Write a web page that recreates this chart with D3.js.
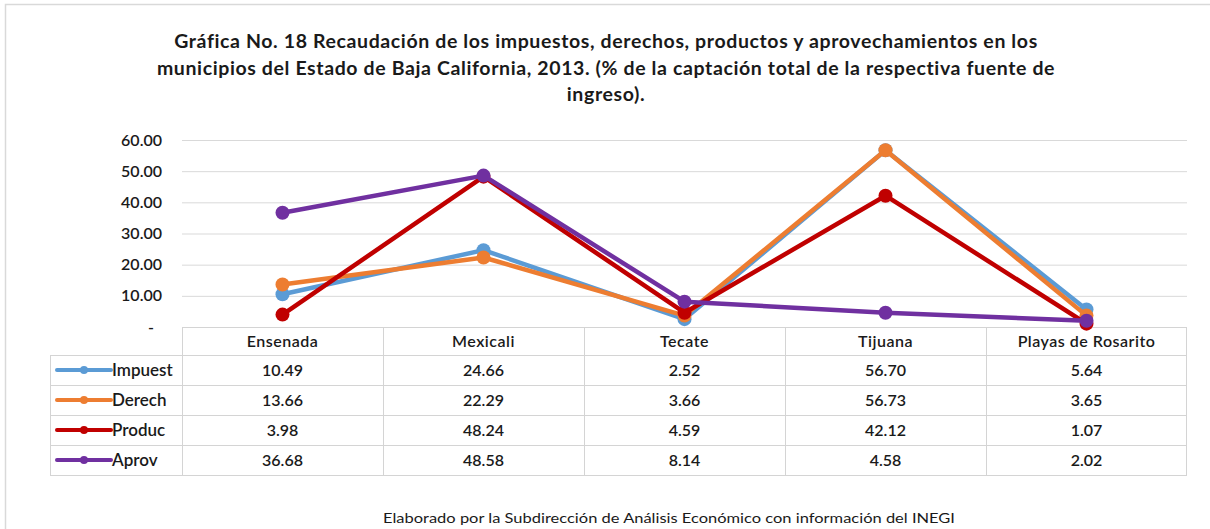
<!DOCTYPE html>
<html>
<head>
<meta charset="utf-8">
<script src="https://cdn.jsdelivr.net/npm/d3@7"></script>
<style>
  body { margin: 0; background: #fff; }
  text { font-family: Lato, "Open Sans", sans-serif; fill: #1a1a1a; }
</style>
</head>
<body>
<div id="chart"></div>
<script>
// data
var municipios = ["Ensenada", "Mexicali", "Tecate", "Tijuana", "Playas de Rosarito"];
var seriesNames = ["Impuest", "Derech", "Produc", "Aprov"];
var impuest = [10.49, 24.66, 2.52, 56.70, 5.64];
var derech = [13.66, 22.29, 3.66, 56.73, 3.65];
var produc = [3.98, 48.24, 4.59, 42.12, 1.07];
var aprov = [36.68, 48.58, 8.14, 4.58, 2.02];
var yTicks = [0, 10, 20, 30, 40, 50, 60];
var colors = ["#5b9bd5", "#ed7d31", "#c00000", "#7030a0"];

var titleLines = [
    "Gráfica No. 18 Recaudación de los impuestos, derechos, productos y aprovechamientos en los",
    "municipios del Estado de Baja California, 2013. (% de la captación total de la respectiva fuente de",
    "ingreso)."
];
var footer = "Elaborado por la Subdirección de Análisis Económico con información del INEGI";

var series = seriesNames.map(function(name, i) {
    return {name: name, values: [impuest, derech, produc, aprov][i], color: colors[i]};
});

var width = 1210, height = 529;
var plot = {left: 182, right: 1187, top: 140, bottom: 327};
var table = {left: 50, headerH: 28, rowH: 30};

var svg = d3.select("#chart").append("svg")
    .attr("width", width)
    .attr("height", height);

// outer frame
svg.append("rect")
    .attr("x", 5.5).attr("y", 4.5)
    .attr("width", 1220).attr("height", 540)
    .attr("fill", "none")
    .attr("stroke", "#d9d9d9")
    .attr("stroke-width", 1.5);

// title
svg.append("g").selectAll("text")
    .data(titleLines)
    .join("text")
    .attr("x", 606)
    .attr("y", (d, i) => 48 + i * 26.5)
    .attr("text-anchor", "middle")
    .attr("font-size", 19.5)
    .attr("font-weight", "bold")
    .attr("letter-spacing", 0.62)
    .text(d => d);

var x = d3.scaleBand()
    .domain(municipios)
    .range([plot.left, plot.right]);

var y = d3.scaleLinear()
    .domain([0, 60])
    .range([plot.bottom, plot.top]);

// gridlines
svg.append("g")
    .selectAll("line")
    .data(yTicks.filter(d => d > 0))
    .join("line")
    .attr("x1", plot.left).attr("x2", plot.right)
    .attr("y1", d => y(d) + 0.5).attr("y2", d => y(d) + 0.5)
    .attr("stroke", "#d9d9d9");

// y axis labels
var yAxis = d3.axisLeft(y)
    .tickValues(yTicks)
    .tickSize(0)
    .tickPadding(0)
    .tickFormat(d => d === 0 ? "-" : d3.format(".2f")(d));

svg.append("g")
    .attr("class", "y-axis")
    .attr("transform", "translate(162,0)")
    .call(yAxis)
    .call(g => g.select(".domain").remove())
    .selectAll("text")
    .attr("font-size", 16)
    .attr("font-weight", "600")
    .attr("font-family", "Lato, sans-serif")
    .attr("fill", "#1a1a1a")
    .attr("x", d => d === 0 ? -8 : 0);

// table
var tableG = svg.append("g").attr("class", "table");
var tTop = plot.bottom;
var tBottom = tTop + table.headerH + table.rowH * series.length;
var gridColor = "#d4d4d4";

// horizontal rules
tableG.append("line")
    .attr("x1", plot.left).attr("x2", plot.right)
    .attr("y1", tTop + 0.5).attr("y2", tTop + 0.5)
    .attr("stroke", gridColor);
d3.range(series.length + 1).forEach(function(i) {
    var yy = tTop + table.headerH + i * table.rowH + 0.5;
    tableG.append("line")
        .attr("x1", table.left).attr("x2", plot.right)
        .attr("y1", yy).attr("y2", yy)
        .attr("stroke", gridColor);
});

// vertical rules
tableG.append("line")
    .attr("x1", table.left + 0.5).attr("x2", table.left + 0.5)
    .attr("y1", tTop + table.headerH).attr("y2", tBottom)
    .attr("stroke", gridColor);
municipios.forEach(function(m) {
    tableG.append("line")
        .attr("x1", x(m) + 0.5).attr("x2", x(m) + 0.5)
        .attr("y1", tTop).attr("y2", tBottom)
        .attr("stroke", gridColor);
});
tableG.append("line")
    .attr("x1", plot.right - 0.5).attr("x2", plot.right - 0.5)
    .attr("y1", tTop).attr("y2", tBottom)
    .attr("stroke", gridColor);

// header labels
tableG.selectAll("text.head")
    .data(municipios)
    .join("text")
    .attr("class", "head")
    .attr("x", d => x(d) + x.bandwidth() / 2)
    .attr("y", tTop + 20)
    .attr("text-anchor", "middle")
    .attr("font-size", 16)
    .attr("font-weight", "600")
    .attr("letter-spacing", 0.5)
    .text(d => d);

// rows
series.forEach(function(s, i) {
    var rowMid = tTop + table.headerH + i * table.rowH + table.rowH / 2;
    tableG.append("line")
        .attr("x1", 57).attr("x2", 111)
        .attr("y1", rowMid).attr("y2", rowMid)
        .attr("stroke", s.color)
        .attr("stroke-width", 4)
        .attr("stroke-linecap", "round");
    tableG.append("circle")
        .attr("cx", 84).attr("cy", rowMid).attr("r", 4)
        .attr("fill", s.color);
    tableG.append("text")
        .attr("x", 112).attr("y", rowMid + 6)
        .attr("font-size", 17)
        .attr("font-weight", "600")
        .text(s.name);
    tableG.selectAll("text.v" + i)
        .data(s.values)
        .join("text")
        .attr("class", "v" + i)
        .attr("x", (d, j) => x(municipios[j]) + x.bandwidth() / 2)
        .attr("y", rowMid + 6)
        .attr("text-anchor", "middle")
        .attr("font-size", 16)
        .attr("font-weight", "600")
        .text(d => d.toFixed(2));
});

// lines and markers
var line = d3.line()
    .x((d, j) => x(municipios[j]) + x.bandwidth() / 2)
    .y(d => y(d));

var sg = svg.append("g").selectAll("g.series")
    .data(series)
    .join("g")
    .attr("class", "series");

sg.append("path")
    .attr("d", d => line(d.values))
    .attr("fill", "none")
    .attr("stroke", d => d.color)
    .attr("stroke-width", 4.5)
    .attr("stroke-linejoin", "round");

sg.selectAll("circle")
    .data(d => d.values.map(v => ({v: v, color: d.color})))
    .join("circle")
    .attr("cx", (d, j) => x(municipios[j]) + x.bandwidth() / 2)
    .attr("cy", d => y(d.v))
    .attr("r", 7)
    .attr("fill", d => d.color);

// footer
svg.append("text")
    .attr("x", 669)
    .attr("y", 523)
    .attr("text-anchor", "middle")
    .attr("font-size", 13)
    .attr("textLength", 572)
    .attr("lengthAdjust", "spacingAndGlyphs")
    .text(footer);
</script>
</body>
</html>
